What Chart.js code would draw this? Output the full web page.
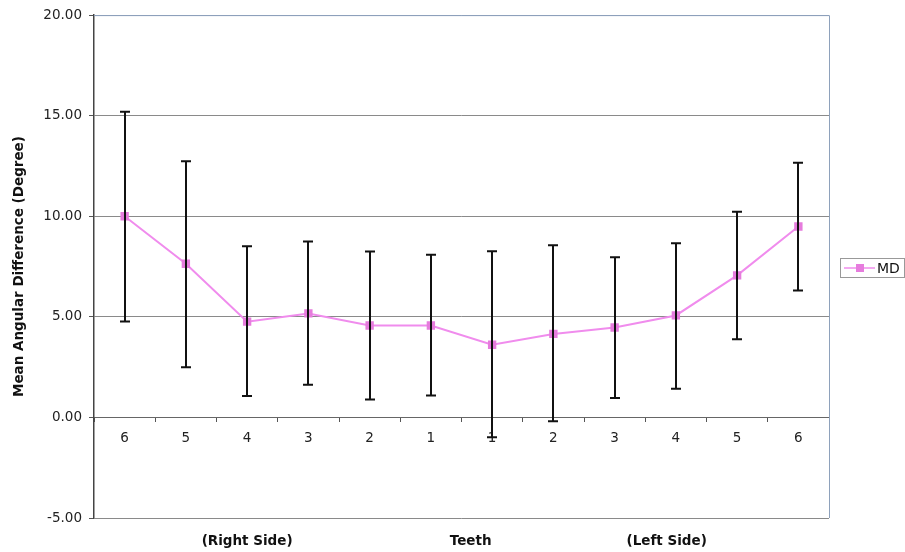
<!DOCTYPE html>
<html>
<head>
<meta charset="utf-8">
<script src="https://cdn.jsdelivr.net/npm/chart.js@4"></script>
<style>
  body { margin: 0; background: #fff; }
  #wrap { width: 905px; height: 552px; }
</style>
</head>
<body>
<div id="wrap"><canvas id="chart" width="905" height="552"></canvas></div>
<script>
// teeth, right side then left side
const teethLabels = ['6', '5', '4', '3', '2', '1', '1', '2', '3', '4', '5', '6'];
const mdValues = [10.00, 7.64, 4.76, 5.17, 4.57, 4.57, 3.61, 4.15, 4.47, 5.07, 7.06, 9.49];
const errUpper = [15.20, 12.74, 8.51, 8.75, 8.25, 8.09, 8.26, 8.56, 7.96, 8.66, 10.22, 12.66];
const errLower = [4.77, 2.50, 1.06, 1.62, 0.89, 1.09, -0.99, -0.19, 0.97, 1.43, 3.89, 6.31];
const yTicks = [-5, 0, 5, 10, 15, 20];
const bottomLabels = [
  { text: '(Right Side)', at: 2 },
  { text: 'Teeth', at: 5.65 },
  { text: '(Left Side)', at: 8.85 }
];

const FONT = "'DejaVu Sans', Verdana, sans-serif";
const pink = '#f08ced';
const pinkMarker = '#e67cdd';

// error bars drawn with the chart's own scales
const errorBars = {
  id: 'errorBars',
  afterDatasetsDraw(chart) {
    const ctx = chart.ctx, x = chart.scales.x, y = chart.scales.y;
    ctx.save();
    ctx.strokeStyle = '#111';
    ctx.lineWidth = 2;
    errUpper.forEach((hi, i) => {
      const px = Math.round(x.getPixelForValue(i));
      const top = y.getPixelForValue(hi), bot = y.getPixelForValue(errLower[i]);
      ctx.beginPath();
      ctx.moveTo(px, top); ctx.lineTo(px, bot);
      ctx.moveTo(px - 5, top); ctx.lineTo(px + 5, top);
      ctx.moveTo(px - 5, bot); ctx.lineTo(px + 5, bot);
      ctx.stroke();
    });
    ctx.restore();
  }
};

// frame, bottom titles and legend box
const extras = {
  id: 'extras',
  beforeDatasetsDraw(chart) {
    const ctx = chart.ctx, a = chart.chartArea;
    ctx.save();
    ctx.strokeStyle = '#8ea1bb';
    ctx.lineWidth = 1;
    ctx.beginPath();
    ctx.moveTo(a.left, a.top + 0.5); ctx.lineTo(a.right + 0.5, a.top + 0.5);
    ctx.lineTo(a.right + 0.5, a.bottom);
    ctx.stroke();
    ctx.restore();
  },
  afterDraw(chart) {
    const ctx = chart.ctx, x = chart.scales.x;
    ctx.save();
    ctx.fillStyle = '#111';
    ctx.font = 'bold 13.5px ' + FONT;
    ctx.textAlign = 'center';
    ctx.textBaseline = 'middle';
    bottomLabels.forEach(b => ctx.fillText(b.text, x.getPixelForValue(b.at), 541));

    // legend
    const lx = 840, ly = 258;
    ctx.strokeStyle = '#999';
    ctx.lineWidth = 1;
    ctx.strokeRect(lx + 0.5, ly + 0.5, 64, 19);
    ctx.strokeStyle = pink;
    ctx.lineWidth = 1.5;
    ctx.beginPath();
    ctx.moveTo(lx + 4, ly + 10); ctx.lineTo(lx + 35, ly + 10);
    ctx.stroke();
    ctx.fillStyle = pinkMarker;
    ctx.fillRect(lx + 16, ly + 6, 8, 8);
    ctx.fillStyle = '#111';
    ctx.font = '14px ' + FONT;
    ctx.textAlign = 'left';
    ctx.fillText('MD', lx + 37, ly + 11);
    ctx.restore();
  }
};

new Chart(document.getElementById('chart'), {
  type: 'line',
  data: {
    labels: teethLabels,
    datasets: [{
      label: 'MD',
      data: mdValues,
      borderColor: pink,
      borderWidth: 2,
      pointStyle: 'rect',
      pointRadius: 4.5,
      pointBackgroundColor: pinkMarker,
      pointBorderColor: pinkMarker,
      tension: 0
    }]
  },
  options: {
    responsive: false,
    animation: false,
    layout: { padding: { top: 14, right: 76, bottom: 34, left: 0 } },
    plugins: { legend: { display: false }, tooltip: { enabled: false } },
    scales: {
      x: {
        type: 'category',
        offset: true,
        position: { y: 0 },
        afterFit: s => { s.height = 0; },
        grid: { offset: true, drawOnChartArea: false, drawTicks: true, tickLength: 4, color: '#555' },
        border: { color: '#666', width: 1 },
        ticks: { color: '#222', padding: 9, maxRotation: 0, font: { family: FONT, size: 13.5 } }
      },
      y: {
        min: -5,
        max: 20,
        afterFit: s => { s.width = 94; },
        afterBuildTicks: s => { s.ticks = yTicks.map(v => ({ value: v })); },
        grid: {
          color: ctx => ctx.tick && ctx.tick.value === 20 ? '#8ea1bb' : '#8a8a8a',
          tickLength: 5,
          tickColor: '#555'
        },
        border: { color: '#444', width: 1.5 },
        ticks: {
          color: '#222',
          padding: 7,
          font: { family: FONT, size: 13.5 },
          callback: v => Number(v).toFixed(2)
        },
        title: {
          display: true,
          text: 'Mean Angular Difference (Degree)',
          color: '#111',
          padding: { top: 11, bottom: 0 },
          font: { family: FONT, size: 13.5, weight: 'bold' }
        }
      }
    }
  },
  plugins: [errorBars, extras]
});
</script>
</body>
</html>
